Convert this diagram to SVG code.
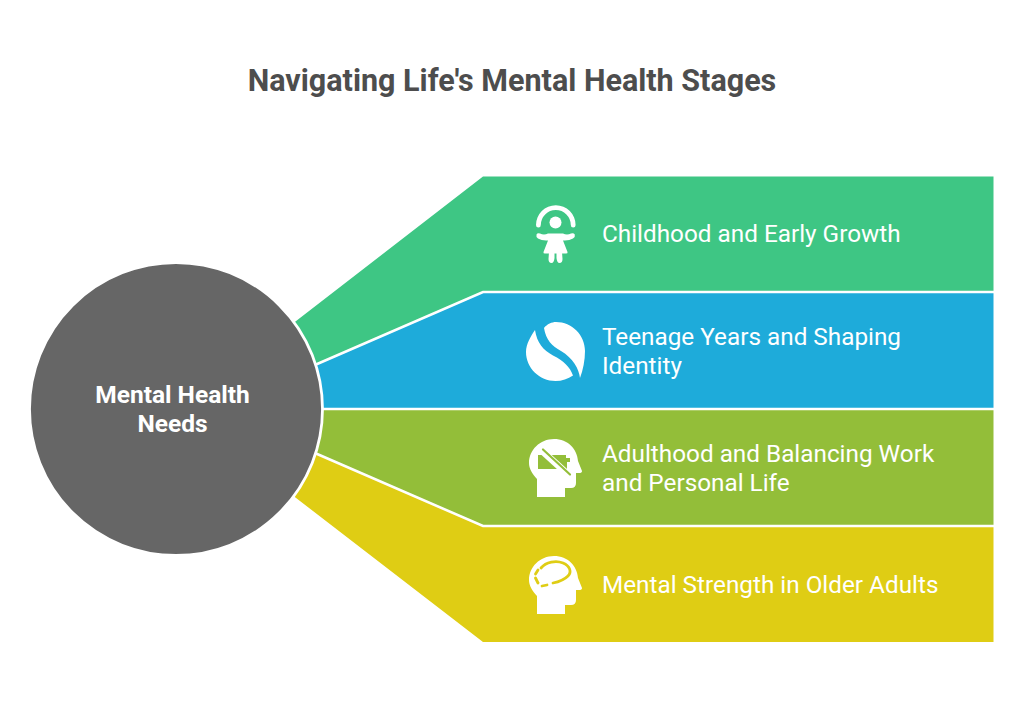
<svg xmlns="http://www.w3.org/2000/svg" width="1024" height="702" viewBox="0 0 1024 702">
<style>
.lbl{font-family:Roboto,"Liberation Sans",sans-serif;font-size:24.3px;fill:#fff}
.hub{font-size:24.500px;font-weight:700}
.ic{fill:#fff}
.cut{fill:none;stroke:#DFCD14;stroke-width:2.800;stroke-linecap:round}
</style>
<rect width="1024" height="702" fill="#fff"/>
<text x="512" y="90.500" text-anchor="middle" font-family="Roboto,'Liberation Sans',sans-serif" font-size="30.500" font-weight="700" fill="#4D4D4D">Navigating Life's Mental Health Stages</text>
<g id="connectors">
<path fill="#3EC684" d="M293.500 323L483 176.500H993.500V292H483L316 365Z"/>
<path fill="#1EABDA" d="M316 365L483 292.500H993.500V409H320Z"/>
<path fill="#93BE39" d="M320 409H993.500V526.500H483L316 453Z"/>
<path fill="#DFCD14" d="M316 453L483 526.500H993.500V642H483L293.500 496Z"/>
<path fill="none" stroke="#fff" stroke-width="2.600" d="M316 364.500L483 292H994M322 409H994M316 453.500L483 526H994"/>
</g>
<g id="hub">
<circle cx="176" cy="409" r="146.500" fill="#666666" stroke="#fff" stroke-width="2.800"/>
<text class="lbl hub" text-anchor="middle" x="172.500" y="403">Mental Health</text>
<text class="lbl hub" text-anchor="middle" x="172.500" y="432">Needs</text>
</g>
<g id="stage1">
<g class="ic">
<circle cx="555.500" cy="222.500" r="6"/>
<path d="M536 225A19.800 19.800 0 1 1 575.600 225Q575.600 227.500 573.200 227.500Q570.800 227.500 570.800 225A15 15 0 1 0 540.800 225Q540.800 227.500 538.400 227.500Q536 227.500 536 225Z"/>
<path d="M536.500 234.500Q537.500 232.500 540 233.500Q544 235.500 548 233.500H563Q567 235.500 571 233.500Q573.500 232.500 574.800 234.500Q575.500 236.500 573 238.500Q569 241 563 240.500L567.500 252Q568 253.500 566 253.500H548H545Q543 253.500 543.500 252L548 240.500Q542 241 538 238.500Q535.800 236.500 536.500 234.500Z"/>
<path d="M549 252H554.500V258Q554 263 551.500 263Q548.500 263 548.500 259ZM556.500 252H562L562.500 259Q562.500 263 559.500 263Q557 263 556.500 258Z"/>
</g>
<text class="lbl" x="602" y="242">Childhood and Early Growth</text>
</g>
<g id="stage2">
<path class="ic" d="M535 330C531 336 526 344 526 352C526 368 539.500 381 555.500 381C562 381 568 379 573 375.500C570 367 564 361 553 355.500C543 350 537 343 535 330Z"/>
<path class="ic" d="M544 328C547 324 552 322 556 322C572 322 585 335 585 351C585 360 583 370 580 378C579 369 573 358 561 351C552 346 546 340 544 328Z"/>
<text class="lbl" x="602" y="345">Teenage Years and Shaping</text>
<text class="lbl" x="602" y="374">Identity</text>
</g>
<g id="stage3">
<path class="ic" d="M554 439C568 439 577 449 578 461L582 471Q582 473 579 473H576V483Q576 488 571 488H565V497H537V479C532 474 529 468 529 463C529 450 540 439 554 439Z"/>
<path fill="#93BE39" d="M538 455H566V458H570V462H567V469H538Z"/>
<path fill="none" stroke="#fff" stroke-width="7" d="M540 449L573 479"/>
<path fill="none" stroke="#93BE39" stroke-width="2.200" stroke-linecap="round" d="M543 449.500L570 474.500"/>
<text class="lbl" x="602" y="462">Adulthood and Balancing Work</text>
<text class="lbl" x="602" y="491">and Personal Life</text>
</g>
<g id="stage4">
<path class="ic" d="M554 556C568 556 577 566 578 578L582 588Q582 590 579 590H576V600Q576 605 571 605H565V614H537V596C532 591 529 585 529 580C529 567 540 556 554 556Z"/>
<path class="cut" d="M541 568C546 562 556 560 563 563C570 566 572 572 568 576C564 580 558 582 553 583"/>
<path class="cut" d="M547 585L542 586"/>
<path class="cut" d="M538 583L535.500 578"/>
<path class="cut" d="M535.500 574L538 570"/>
<text class="lbl" x="602" y="593">Mental Strength in Older Adults</text>
</g>
</svg>
